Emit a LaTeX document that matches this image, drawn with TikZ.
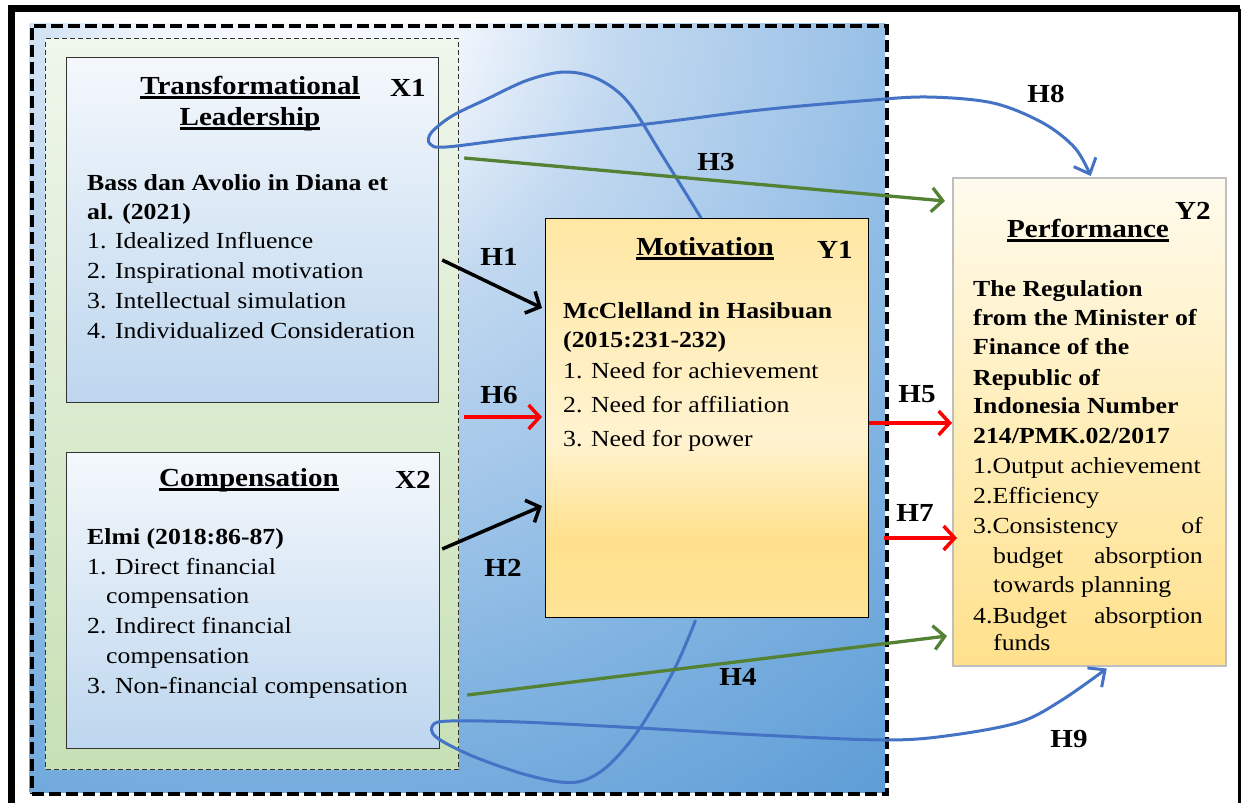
\documentclass[tikz,border=0pt]{standalone}
\usepackage{fontspec}
\setmainfont{Liberation Serif}[FakeStretch=1.12]
\usetikzlibrary{arrows.meta,calc}
\definecolor{hblue}{RGB}{68,114,196}
\definecolor{hgreen}{RGB}{84,130,53}
\definecolor{hred}{RGB}{255,0,0}
\definecolor{xtop}{RGB}{244,248,252}
\definecolor{xbot}{RGB}{189,214,238}
\definecolor{gtop}{RGB}{239,246,235}
\definecolor{gmid}{RGB}{214,232,201}
\definecolor{gbot}{RGB}{199,224,180}
\definecolor{pborder}{RGB}{191,191,191}
\pgfdeclareradialshading{bgrad}{\pgfpointorigin}{%
 rgb(0bp)=(0.97,0.98,1);
 rgb(4bp)=(0.94,0.96,0.99);
 rgb(8bp)=(0.76,0.85,0.94);
 rgb(12bp)=(0.66,0.79,0.92);
 rgb(18bp)=(0.50,0.70,0.88);
 rgb(25bp)=(0.36,0.61,0.84);
 rgb(50bp)=(0.36,0.61,0.84)}
\pgfdeclareverticalshading{motshade}{100bp}{%
 rgb(0bp)=(1,0.894,0.59);
 rgb(25bp)=(1,0.894,0.59);
 rgb(35bp)=(1,0.88,0.55);
 rgb(47.5bp)=(1,0.953,0.816);
 rgb(75bp)=(1,0.906,0.64);
 rgb(100bp)=(1,0.906,0.64)}
\pgfdeclareverticalshading{perfshade}{100bp}{%
 rgb(0bp)=(1,0.882,0.55);
 rgb(25bp)=(1,0.882,0.55);
 rgb(50bp)=(1,0.933,0.73);
 rgb(75bp)=(1,0.984,0.93);
 rgb(100bp)=(1,0.984,0.93)}
\newcommand{\ulbox}[1]{\setbox0=\hbox{#1}\rlap{\rule[-4.5pt]{\wd0}{2.2pt}}\box0}
\tikzset{
 txt/.style={inner sep=0pt, anchor=base west, font=\fontsize{23}{27}\selectfont},
 txtb/.style={inner sep=0pt, anchor=base west, font=\fontsize{23}{27}\selectfont\bfseries},
 txtr/.style={inner sep=0pt, anchor=base east, font=\fontsize{23}{27}\selectfont},
 head/.style={inner sep=0pt, anchor=base, font=\fontsize{26}{30}\selectfont\bfseries},
 xbox/.style={draw=black!80, line width=1.2pt, top color=xtop, bottom color=xbot, anchor=north west, inner sep=0pt},
 motbox/.style={draw=black, line width=1.2pt, shade, shading=motshade, anchor=north west, inner sep=0pt},
 perfbox/.style={draw=pborder, line width=1.5pt, shade, shading=perfshade, anchor=north west, inner sep=0pt},
 greenbox/.style={draw=black!80, line width=1.2pt, dash pattern=on 5pt off 3pt, top color=gtop, middle color=gmid, bottom color=gbot, anchor=north west, inner sep=0pt},
 bigbox/.style={draw=black, line width=4pt, dash pattern=on 12pt off 5pt, anchor=north west, inner sep=0pt},
 arr/.style={line width=3.5pt, -{Straight Barb[length=11pt,width=24pt]}},
 curv/.style={hblue, line width=3pt, -{Straight Barb[length=13pt,width=24pt]}},
}
\begin{document}
\begin{tikzpicture}[x=1pt,y=-1pt]
\useasboundingbox (0,0) rectangle (1242,803);
\fill[white] (0,0) rectangle (1242,803);
% outer frame
\draw[line width=7pt] (11.5,803) -- (11.5,8.5) -- (1240,8.5);
\draw[line width=3pt] (1239,8.5) -- (1239,803);
% blue background
\begin{scope}
\clip (29.5,23.5) rectangle (885,792);
\shade[shading=bgrad] (300,0) circle[radius=1000pt];
\end{scope}
\node[bigbox, minimum width=855.5pt, minimum height=768.5pt] (outer) at (29.5,23.5) {};
\node[greenbox, minimum width=413pt, minimum height=731pt] (grn) at (45,38) {};
% boxes
\node[xbox, minimum width=372pt, minimum height=345pt] (x1) at (66,57) {};
\node[xbox, minimum width=373pt, minimum height=296pt] (x2) at (66,452) {};
\node[motbox, minimum width=323pt, minimum height=399pt] (mot) at (545,218) {};
\node[perfbox, minimum width=273pt, minimum height=488pt] (perf) at (952,177) {};
% X1 texts
\node[head] (t1) at (250,94) {\ulbox{Transformational}};
\node[head] (t2) at (250,125) {\ulbox{Leadership}};
\node[head] (t3) at (408,96) {X1};
\node[txtb] (t4) at (87,190) {Bass dan Avolio in Diana et};
\node[txtb] (t5) at (87,219) {al. (2021)};
\node[txt] (t6) at (87,248) {1. Idealized Influence};
\node[txt] (t7) at (87,278) {2. Inspirational motivation};
\node[txt] (t8) at (87,308) {3. Intellectual simulation};
\node[txt] (t9) at (87,338) {4. Individualized Consideration};
% X2 texts
\node[head] (u1) at (249,486) {\ulbox{Compensation}};
\node[head] (u2) at (413,488) {X2};
\node[txtb] (u3) at (87,544) {Elmi (2018:86-87)};
\node[txt] (u4) at (87,574) {1. Direct financial};
\node[txt] (u5) at (106,603) {compensation};
\node[txt] (u6) at (87,633) {2. Indirect financial};
\node[txt] (u7) at (106,663) {compensation};
\node[txt] (u8) at (87,693) {3. Non-financial compensation};
% Motivation texts
\node[head] (m1) at (705,255) {\ulbox{Motivation}};
\node[head] (m2) at (835,258) {Y1};
\node[txtb] (m3) at (563,318) {McClelland in Hasibuan};
\node[txtb] (m4) at (563,347) {(2015:231-232)};
\node[txt] (m5) at (563,378) {1. Need for achievement};
\node[txt] (m6) at (563,412) {2. Need for affiliation};
\node[txt] (m7) at (563,446) {3. Need for power};
% Performance texts
\node[head] (p1) at (1088,237) {\ulbox{Performance}};
\node[head] (p2) at (1193,219) {Y2};
\node[txtb] (p3) at (973,296) {The Regulation};
\node[txtb] (p4) at (973,325) {from the Minister of};
\node[txtb] (p5) at (973,354) {Finance of the};
\node[txtb] (p6) at (973,385) {Republic of};
\node[txtb] (p7) at (973,413) {Indonesia Number};
\node[txtb] (p8) at (973,443) {214/PMK.02/2017};
\node[txt] (p9) at (973,473) {1.Output achievement};
\node[txt] (p10) at (973,503) {2.Efficiency};
\node[txt] (p11) at (973,533) {3.Consistency};
\node[txtr] (p12) at (1203,533) {of};
\node[txt] (p13) at (993,563) {budget};
\node[txtr] (p14) at (1203,563) {absorption};
\node[txt] (p15) at (993,592) {towards planning};
\node[txt] (p16) at (973,623) {4.Budget};
\node[txtr] (p17) at (1203,623) {absorption};
\node[txt] (p18) at (993,650) {funds};
% curved connectors
\draw[curv] plot[smooth, tension=0.55] coordinates {([xshift=-6pt]mot.north) (662,155) (628,102) (598,79) (565,72) (528,80) (487,99) (452,116) (431,133) (430,144) (446,147) (520,138) (647,124) (760,110) (860,101) (927,97) (993,103) (1043,123) (1075,148) ([xshift=1.5pt,yshift=1pt]perf.north)};
\draw[curv] plot[smooth, tension=0.55] coordinates {([xshift=-11.5pt,yshift=-2pt]mot.south) (674,670) (640,728) (610,764) (585,780) (560,782) (520,773) (470,755) (436,737) (433,725) (450,721) (520,722) (640,728) (760,735) (887,740) (953,735) (1020,722) (1062,700) ([xshift=17.5pt,yshift=-2pt]perf.south)};
% straight connectors
\draw[arr, black] ([xshift=3pt,yshift=-203pt]x1.north east) -- ([xshift=-3pt,yshift=-90pt]mot.north west);
\draw[arr, black] ([xshift=2pt,yshift=-97pt]x2.north east) -- ([xshift=-3pt,yshift=-288pt]mot.north west);
\draw[arr, hred] ([xshift=5pt,yshift=-379pt]grn.north east) -- ([xshift=-3pt,yshift=-199pt]mot.north west);
\draw[arr, hred] ([yshift=-205pt]mot.north east) -- ([yshift=-246pt]perf.north west);
\draw[arr, hred] ([xshift=15pt,yshift=-320pt]mot.north east) -- ([xshift=5pt,yshift=-361pt]perf.north west);
\draw[arr, hgreen, line width=3.3pt] ([xshift=5pt,yshift=-120pt]grn.north east) -- ([xshift=-7pt,yshift=-24pt]perf.north west);
\draw[arr, hgreen, line width=3.3pt] ([xshift=8pt,yshift=-657pt]grn.north east) -- ([xshift=-5pt,yshift=-459pt]perf.north west);
% labels
\node[head] (h1) at (499,265) {H1};
\node[head] (h6) at (499,403) {H6};
\node[head] (h2) at (503,576) {H2};
\node[head] (h3) at (716,170) {H3};
\node[head] (h8) at (1046,102) {H8};
\node[head] (h5) at (917,402) {H5};
\node[head] (h7) at (915,521) {H7};
\node[head] (h4) at (738,685) {H4};
\node[head] (h9) at (1069,747) {H9};
\end{tikzpicture}
\end{document}
